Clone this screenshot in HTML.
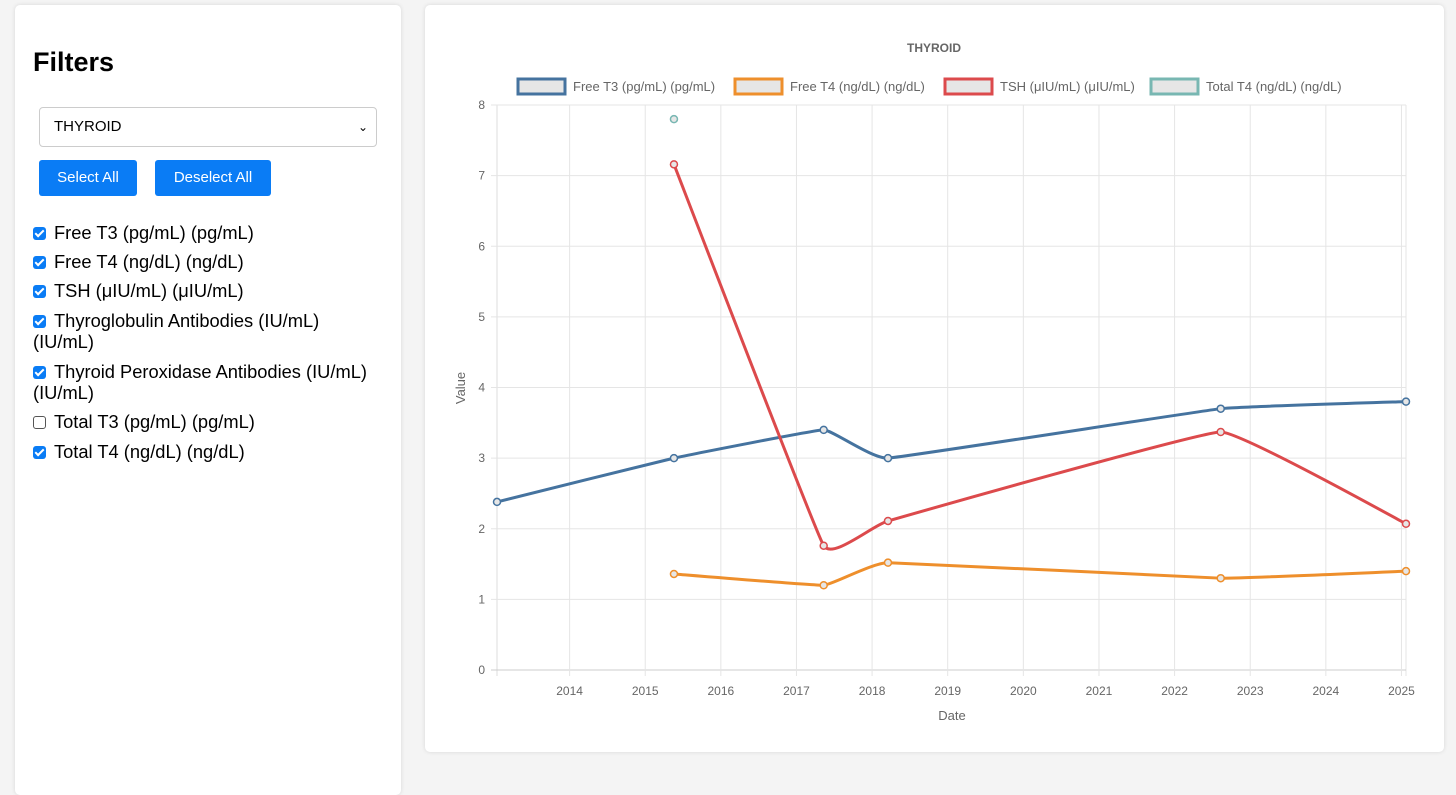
<!DOCTYPE html>
<html><head><meta charset="utf-8">
<style>
body{margin:0;width:1456px;height:772px;background:#f4f4f4;font-family:"Liberation Sans",sans-serif;position:relative;overflow:hidden}
.card{position:absolute;background:#fff;border-radius:5px;box-shadow:0 0 4px rgba(0,0,0,.12)}
#left{left:15px;top:5px;width:386px;height:790px}
#right{left:425px;top:5px;width:1019px;height:747px}
h2{position:absolute;left:18px;top:42px;margin:0;font-size:27px;font-weight:bold}
.sel{position:absolute;left:24px;top:102px;width:338px;height:40px;border:1px solid #ccc;border-radius:4px;box-sizing:border-box;font-size:15px;line-height:38px;padding-left:14px}
.sel span{position:absolute;right:8px;top:0;font-size:12px}
.btn{position:absolute;top:155px;height:36px;background:#0a7cf5;color:#fff;border-radius:3px;font-size:15px;line-height:36px;text-align:center}
.cb{position:absolute;left:18px;font-size:18.3px;color:#000;line-height:21px;width:348px}
.box{display:inline-block;width:13px;height:13px;border-radius:3px;background:#0a7cf5;vertical-align:-1px;margin-right:8px;position:relative}
.box.off{background:#fff;border:1px solid #555;box-sizing:border-box}
.box:not(.off)::after{content:"";position:absolute;left:4px;top:1px;width:3px;height:7px;border:solid #fff;border-width:0 2px 2px 0;transform:rotate(45deg)}
</style></head><body>
<div class="card" id="left">
<h2>Filters</h2>
<div class="sel">THYROID<span>&#8964;</span></div>
<div class="btn" style="left:24px;width:98px">Select All</div>
<div class="btn" style="left:140px;width:116px">Deselect All</div>
<div class="cb" style="top:217px"><span class="box"></span>Free T3 (pg/mL) (pg/mL)</div>
<div class="cb" style="top:246px"><span class="box"></span>Free T4 (ng/dL) (ng/dL)</div>
<div class="cb" style="top:275px"><span class="box"></span>TSH (μIU/mL) (μIU/mL)</div>
<div class="cb" style="top:305px"><span class="box"></span>Thyroglobulin Antibodies (IU/mL) (IU/mL)</div>
<div class="cb" style="top:356px"><span class="box"></span>Thyroid Peroxidase Antibodies (IU/mL) (IU/mL)</div>
<div class="cb" style="top:406px"><span class="box off"></span>Total T3 (pg/mL) (pg/mL)</div>
<div class="cb" style="top:436px"><span class="box"></span>Total T4 (ng/dL) (ng/dL)</div>
</div>
<div class="card" id="right"></div>
<svg id="chart" width="1456" height="772" style="position:absolute;left:0;top:0" font-family="Liberation Sans, sans-serif"></svg>
<script>
const years=[2014,2015,2016,2017,2018,2019,2020,2021,2022,2023,2024,2025];
const yTicks=[0,1,2,3,4,5,6,7,8];
const seriesNames=["Free T3 (pg/mL) (pg/mL)","Free T4 (ng/dL) (ng/dL)","TSH (μIU/mL) (μIU/mL)","Total T4 (ng/dL) (ng/dL)"];
const seriesColors=["#45739f","#ee8f2c","#dc4a4c","#78b7b2"];
const freeT3Dates=[2013.04,2015.38,2017.36,2018.21,2022.61,2025.06];
const freeT3Values=[2.38,3.0,3.4,3.0,3.7,3.8];
const freeT4Dates=[2015.38,2017.36,2018.21,2022.61,2025.06];
const freeT4Values=[1.36,1.2,1.52,1.3,1.4];
const tshDates=[2015.38,2017.36,2018.21,2022.61,2025.06];
const tshValues=[7.16,1.76,2.11,3.37,2.07];
const totalT4Dates=[2015.38];
const totalT4Values=[7.8];
const X0=2013.04,X1=2025.06,L=497,R=1406,T=105,B=670;
const sx=d=>L+(d-X0)/(X1-X0)*(R-L);
const sy=v=>B-v/8*(B-T);
const svg=document.getElementById('chart');
const NS="http://www.w3.org/2000/svg";
function el(t,a,p){const e=document.createElementNS(NS,t);for(const k in a)e.setAttribute(k,a[k]);(p||svg).appendChild(e);return e;}
function txt(x,y,s,a,p){const e=el('text',Object.assign({x:x,y:y,'font-size':12,fill:'#666'},a||{}),p);e.textContent=s;return e;}
el('line',{x1:L,x2:L,y1:T,y2:B+6,stroke:'#ddd'});
el('line',{x1:R,x2:R,y1:T,y2:B+6,stroke:'#e5e5e5'});
yTicks.forEach(v=>{const l=el('line',{x1:L-6,x2:R,y1:sy(v),y2:sy(v),stroke:v===0?'#ccc':'#e5e5e5'});


const t=txt(L-12,sy(v)+4,String(v),{'text-anchor':'end'});

});
years.forEach(y=>{const l=el('line',{x1:sx(y),x2:sx(y),y1:T,y2:B+6,stroke:'#e5e5e5'});


const t=txt(sx(y),B+25,String(y),{'text-anchor':'middle'});

});
const xt=txt(952,720,'Date',{'text-anchor':'middle','font-size':13});


const yt=txt(0,0,'Value',{'text-anchor':'middle','font-size':13,transform:'translate(465,388) rotate(-90)'});


const ti=txt(934,52,'THYROID',{'text-anchor':'middle','font-weight':'bold'});


const legX=[518,735,945,1151];
seriesNames.forEach((n,i)=>{const g=el('g',{});


el('rect',{x:legX[i],y:79,width:47,height:15,fill:'#e6e6e6',stroke:seriesColors[i],'stroke-width':3},g);
txt(legX[i]+55,91,n,{'font-size':13},g);});
function path(ds,vs){const p=ds.map((d,i)=>[sx(d),sy(vs[i])]);if(p.length<2)return '';
let s='M'+p[0][0]+','+p[0][1];const k=0.04;
for(let i=0;i<p.length-1;i++){const p0=p[i-1]||p[i],p1=p[i],p2=p[i+1],p3=p[i+2]||p2;
s+=` C${p1[0]+(p2[0]-p0[0])*k},${p1[1]+(p2[1]-p0[1])*k} ${p2[0]-(p3[0]-p1[0])*k},${p2[1]-(p3[1]-p1[1])*k} ${p2[0]},${p2[1]}`;}return s;}
const all=[[freeT3Dates,freeT3Values],[freeT4Dates,freeT4Values],[tshDates,tshValues],[totalT4Dates,totalT4Values]];
const names=['free-t3','free-t4','tsh','total-t4'];
all.forEach(([ds,vs],i)=>{const d=path(ds,vs);
if(d){const l=el('path',{d:d,fill:'none',stroke:seriesColors[i],'stroke-width':3});

}
ds.forEach((x,j)=>{const c=el('circle',{cx:sx(x),cy:sy(vs[j]),r:3.5,fill:'#e6e6e6',stroke:seriesColors[i],'stroke-width':1.5});

});});
</script>
</body></html>
